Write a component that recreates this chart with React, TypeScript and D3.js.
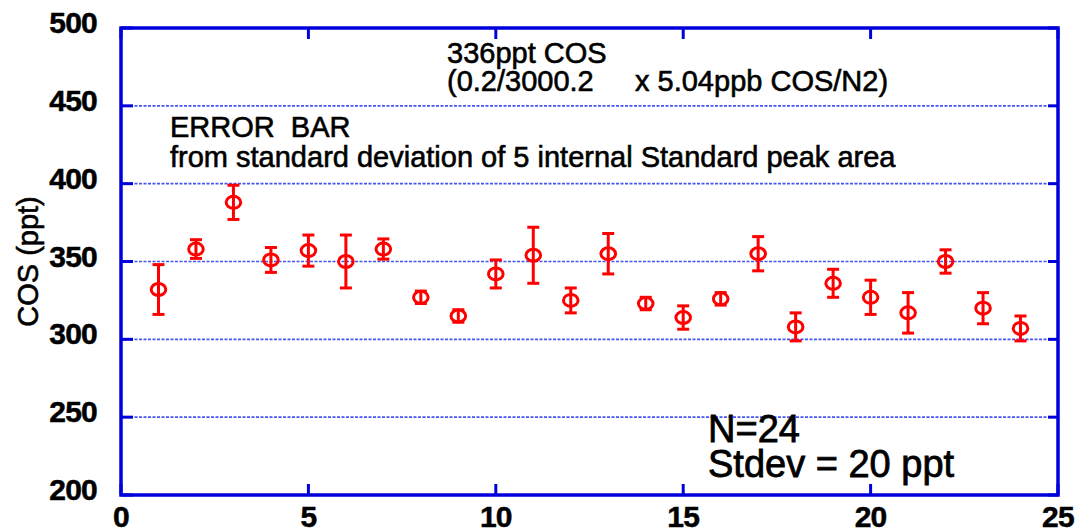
import React, { useEffect, useRef } from "react";
import * as d3 from "d3";

// run number (x) and measured COS (ppt) with error bar half-widths
const runs = [1, 2, 3, 4, 5, 6, 7, 8, 9, 10, 11, 12, 13, 14, 15, 16, 17, 18, 19, 20, 21, 22, 23, 24];
const cosValues = [332, 358, 388, 351, 357, 350, 358, 327, 315, 342, 354, 325, 355, 323, 314, 326, 355, 308, 336, 327, 317, 350, 320, 307];
const cosErrors = [16, 6, 11, 8, 10, 17, 6.5, 4, 4, 9, 18, 8, 13, 4, 7.5, 4, 11, 9, 9, 11, 13, 7.5, 10, 8];
const xTicks = [0, 5, 10, 15, 20, 25];
const yTicks = [200, 250, 300, 350, 400, 450, 500];

const App = () => {
  const svgRef = useRef(null);
  const width = 1078;
  const height = 532;
  const margin = { top: 28, right: 20, bottom: 37, left: 121 };

  useEffect(() => {
    document.body.style.margin = "0";
    const svg = d3.select(svgRef.current).attr("width", width).attr("height", height);
    svg.selectAll("*").remove();

    const font = "'Liberation Sans', Arial, Helvetica, sans-serif";
    const blue = "#0000dd";

    const x = d3.scaleLinear().domain([0, 25]).range([margin.left, width - margin.right]);
    const y = d3.scaleLinear().domain([200, 500]).range([height - margin.bottom, margin.top]);

    // dotted grid lines
    svg
      .append("g")
      .selectAll("line")
      .data(yTicks.slice(1, -1))
      .enter()
      .append("line")
      .attr("x1", x(0))
      .attr("x2", x(25))
      .attr("y1", (d) => y(d))
      .attr("y2", (d) => y(d))
      .attr("stroke", "#1a2cf0")
      .attr("stroke-width", 1.6)
      .attr("stroke-dasharray", "3,1.5")
      .attr("opacity", 0.8);

    // y ticks on both sides, x ticks top and bottom
    const tk = svg.append("g").attr("stroke", blue).attr("stroke-width", 3);
    yTicks.forEach((t) => {
      tk.append("line").attr("x1", x(0)).attr("x2", x(0) + 12).attr("y1", y(t)).attr("y2", y(t));
      tk.append("line").attr("x1", x(25)).attr("x2", x(25) - 10).attr("y1", y(t)).attr("y2", y(t));
    });
    xTicks.forEach((t) => {
      tk.append("line").attr("x1", x(t)).attr("x2", x(t)).attr("y1", y(200)).attr("y2", y(200) - 11);
      tk.append("line").attr("x1", x(t)).attr("x2", x(t)).attr("y1", y(500)).attr("y2", y(500) + 11);
    });

    // frame
    svg
      .append("rect")
      .attr("x", x(0))
      .attr("y", y(500))
      .attr("width", x(25) - x(0))
      .attr("height", y(200) - y(500))
      .attr("fill", "none")
      .attr("stroke", blue)
      .attr("stroke-width", 3.5);

    // tick labels
    const tickText = (sel) =>
      sel
        .style("font-family", font)
        .style("font-weight", "bold")
        .style("font-size", "30px")
        .style("letter-spacing", "-0.8px")
        .attr("stroke", "#000")
        .attr("stroke-width", 0.5);

    svg
      .append("g")
      .selectAll("text")
      .data(yTicks)
      .enter()
      .append("text")
      .attr("x", 97)
      .attr("y", (d) => y(d) + 5)
      .attr("text-anchor", "end")
      .call(tickText)
      .text((d) => d);

    svg
      .append("g")
      .selectAll("text")
      .data(xTicks)
      .enter()
      .append("text")
      .attr("x", (d) => x(d))
      .attr("y", y(200) + 32)
      .attr("text-anchor", "middle")
      .call(tickText)
      .text((d) => d);

    // y axis title
    svg
      .append("text")
      .attr("transform", `translate(38,${(y(200) + y(500)) / 2}) rotate(-90)`)
      .attr("text-anchor", "middle")
      .style("font-family", font)
      .style("font-size", "29px")
      .attr("stroke", "#000")
      .attr("stroke-width", 0.6)
      .text("COS (ppt)");

    // points with error bars
    const pts = svg.append("g").attr("stroke", "#ff0000").attr("stroke-width", 3).attr("fill", "none");
    runs.forEach((r, i) => {
      const v = cosValues[i];
      const e = cosErrors[i];
      const cx = x(r);
      pts.append("line").attr("x1", cx).attr("x2", cx).attr("y1", y(v - e)).attr("y2", y(v + e));
      pts.append("line").attr("x1", cx - 6).attr("x2", cx + 6).attr("y1", y(v + e)).attr("y2", y(v + e));
      pts.append("line").attr("x1", cx - 6).attr("x2", cx + 6).attr("y1", y(v - e)).attr("y2", y(v - e));
      pts.append("ellipse").attr("cx", cx).attr("cy", y(v)).attr("rx", 7.3).attr("ry", 6);
    });

    // annotations
    const note = (tx, ty, s, size, sw) =>
      svg
        .append("text")
        .attr("x", tx)
        .attr("y", ty)
        .style("font-family", font)
        .style("font-size", size + "px")
        .style("white-space", "pre")
        .attr("fill", "#000")
        .attr("stroke", "#000")
        .attr("stroke-width", sw)
        .text(s);

    note(447, 63, "336ppt COS", 29, 0.6);
    note(447, 91, "(0.2/3000.2", 29, 0.6);
    note(635, 91, "x 5.04ppb COS/N2)", 29, 0.6);
    note(170, 137, "ERROR  BAR", 29, 0.6);
    note(170, 167, "from standard deviation of 5 internal Standard peak area", 29, 0.6);
    note(708, 442, "N=24", 38, 0.8);
    note(708, 477, "Stdev = 20 ppt", 38, 0.8);
  }, []);

  return <svg ref={svgRef} style={{ display: "block" }}></svg>;
};

export default App;
